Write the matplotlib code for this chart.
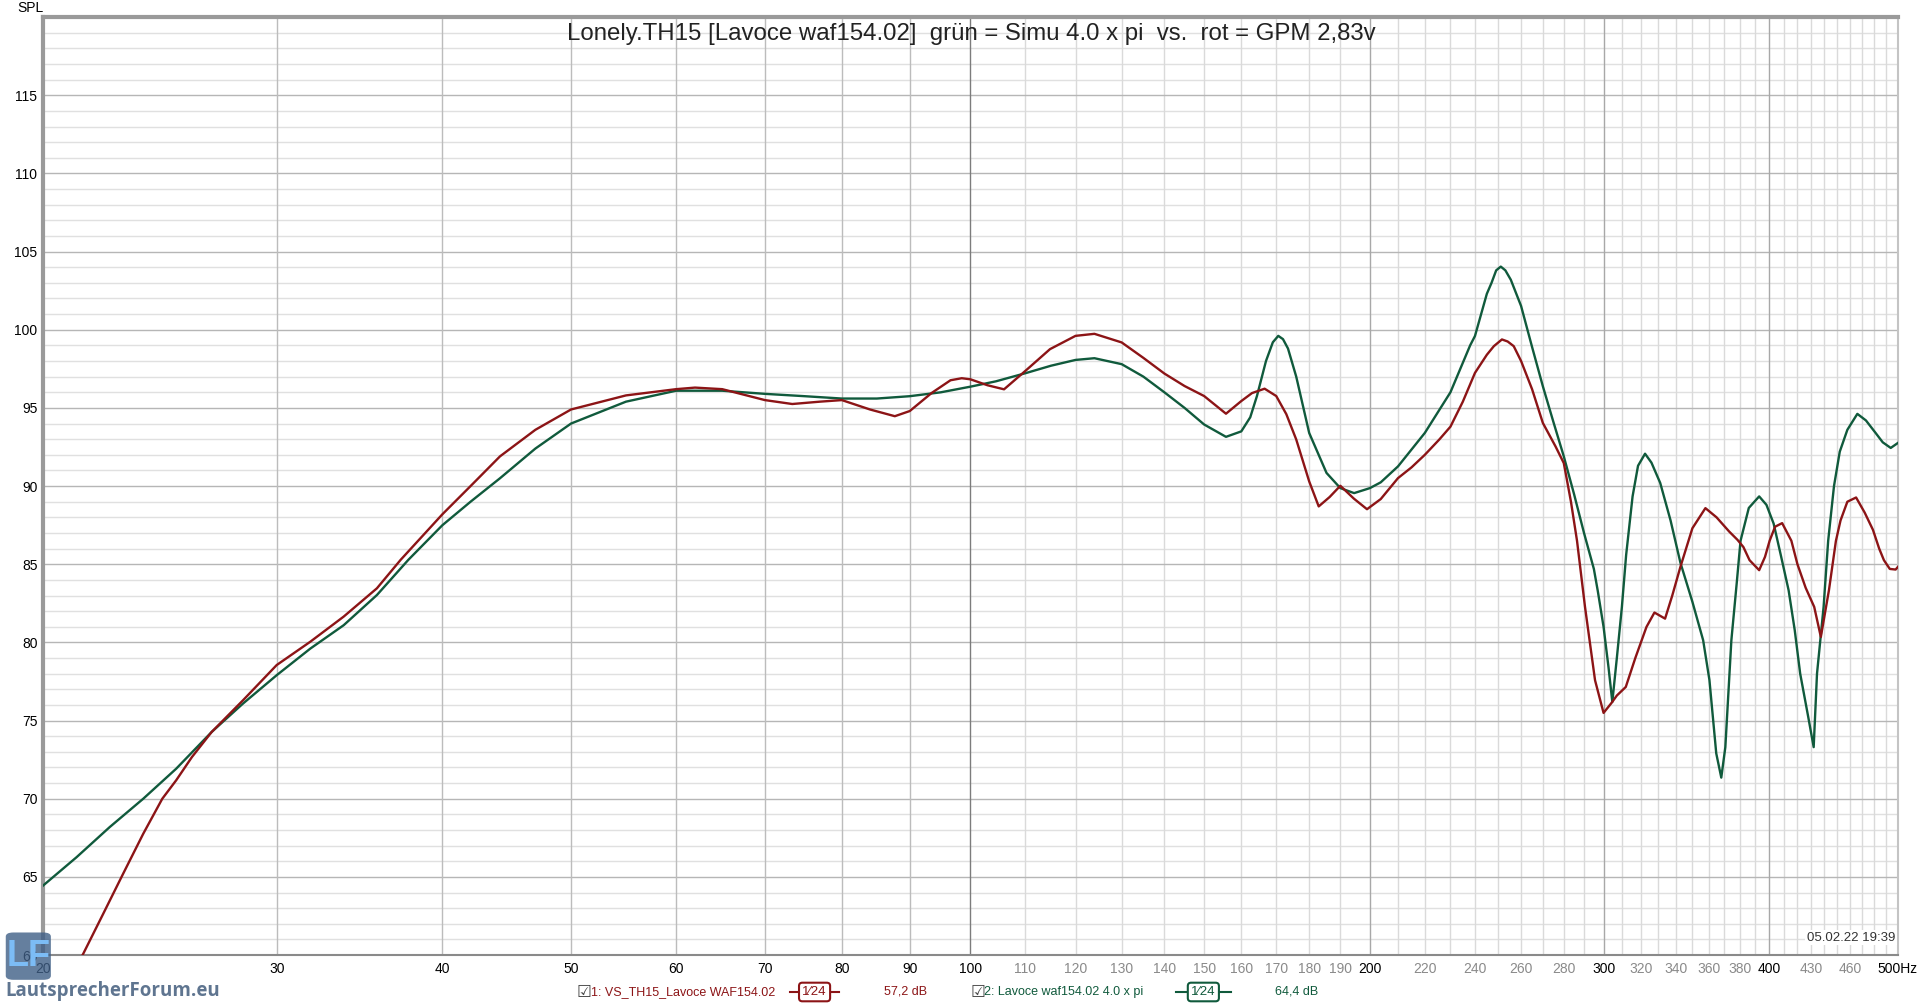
import matplotlib
matplotlib.use("Agg")
import matplotlib.pyplot as plt
from matplotlib.patches import FancyBboxPatch

plt.rcParams['font.family'] = ['Liberation Sans', 'DejaVu Sans']

# red = GPM 2,83V measurement, green = simulation 4.0 x pi
red_freq = [20.6, 21.44, 22.2, 22.98, 23.8, 24.6, 25.2, 25.9, 26.8, 28.3,
            30.0, 31.8, 33.7, 35.7, 37.2, 40.0, 42.0, 44.2, 47.0, 50.0,
            55.0, 60.0, 62.0, 65.0, 70.0, 73.4, 77.0, 80.0, 84.0, 87.7,
            90.0, 93.5, 96.6, 98.5, 100.0, 103.0, 106.0, 110.0, 114.8, 120.0,
            124.0, 130.0, 135.0, 140.0, 145.0, 150.0, 155.8, 160.0, 163.0, 166.6,
            170.0, 173.0, 176.0, 180.0, 183.0, 186.5, 190.0, 194.5, 199.0, 203.8,
            210.0, 215.0, 220.0, 225.6, 230.0, 235.0, 240.0, 245.0, 248.0, 251.5,
            254.0, 256.7,
            260.0, 265.0, 270.0, 276.0, 280.0, 283.5, 286.5, 290.5, 295.6, 300.0,
            304.0, 307.0, 311.8, 317.0, 323.2, 327.7, 333.8, 338.0, 342.8, 350.0,
            358.0, 365.0, 373.0, 378.5, 382.4, 386.5, 393.0, 397.0, 400.2, 404.0,
            409.0, 415.6, 420.0, 426.0, 432.4, 437.4, 443.6, 449.0, 452.6, 458.0,
            465.0, 472.0, 478.8, 484.0, 488.0, 493.0, 498.0, 500.0]
red_spl = [57.6, 60.06, 62.63, 65.19, 67.76, 70.0, 71.18, 72.67, 74.27, 76.3,
           78.55, 80.04, 81.65, 83.46, 85.28, 88.2, 90.0, 91.9, 93.6, 94.9,
           95.8, 96.2, 96.3, 96.2, 95.5, 95.25, 95.4, 95.5, 94.9, 94.47,
           94.8, 95.96, 96.77, 96.9, 96.83, 96.45, 96.19, 97.37, 98.76, 99.61,
           99.74, 99.19, 98.2, 97.2, 96.4, 95.76, 94.63, 95.44, 95.95, 96.23,
           95.76, 94.6, 92.98, 90.3, 88.7, 89.3, 90.02, 89.2, 88.52, 89.17,
           90.51, 91.2, 92.0, 92.98, 93.8, 95.4, 97.24, 98.4, 98.95, 99.38,
           99.25, 98.95,
           98.0, 96.2, 94.04, 92.54, 91.47, 89.0, 86.5, 82.27, 77.58, 75.49,
           76.1, 76.6, 77.15, 79.0, 80.99, 81.91, 81.52, 83.0, 84.83, 87.3,
           88.59, 88.0, 87.1, 86.56, 86.1, 85.26, 84.62, 85.47, 86.5, 87.4,
           87.63, 86.5, 85.0, 83.5, 82.27, 80.35, 83.34, 86.5, 87.8, 89.0,
           89.27, 88.3, 87.2, 86.0, 85.26, 84.7, 84.66, 84.83]

green_freq = [20.0, 21.2, 22.45, 23.8, 25.2, 26.8, 28.3, 30.0, 31.8, 33.7,
              35.7, 37.7, 40.0, 42.0, 44.2, 47.0, 50.0, 55.0, 60.0, 65.0,
              70.0, 75.0, 80.0, 85.0, 90.0, 95.0, 100.0, 104.5, 110.0, 115.0,
              120.0, 124.0, 130.0, 135.0, 140.0, 145.0, 150.0, 155.8, 160.0, 162.5,
              164.4, 167.0, 169.0, 170.6, 172.0, 173.5, 176.0, 180.0, 185.5, 190.0,
              194.6, 200.0,
              203.8, 210.0, 220.0, 230.0, 238.0, 240.0, 245.0, 247.0, 249.0, 251.0,
              253.0, 255.4, 260.0,
              265.0, 270.0, 275.0, 280.0, 285.0, 290.0, 295.0, 297.0, 300.0, 302.6,
              304.6, 307.0, 309.7, 312.0, 315.5, 318.5, 322.4, 326.0, 331.0, 337.0,
              342.8, 350.0, 356.6, 360.5, 364.8, 368.0, 370.6, 374.5, 378.0, 380.5,
              386.0, 393.0, 398.0, 403.0, 408.0, 413.6, 418.0, 422.0, 428.0, 432.0,
              434.5, 439.5, 443.0, 447.5, 452.0, 458.0, 466.0, 473.0, 481.0, 487.0,
              493.8, 500.0]
green_spl = [64.44, 66.26, 68.18, 70.0, 71.92, 74.27, 76.09, 77.9, 79.6, 81.1,
             83.03, 85.28, 87.5, 89.0, 90.5, 92.4, 94.0, 95.4, 96.1, 96.1,
             95.9, 95.75, 95.6, 95.6, 95.75, 96.0, 96.36, 96.7, 97.22, 97.7,
             98.07, 98.18, 97.8, 97.0, 96.0, 95.0, 93.94, 93.15, 93.5, 94.4,
             95.76, 98.0, 99.2, 99.61, 99.4, 98.8, 97.0, 93.4, 90.84, 89.87,
             89.55, 89.87,
             90.24, 91.26, 93.4, 96.0, 99.0, 99.6, 102.3, 103.0, 103.8, 104.04,
             103.8, 103.2, 101.52,
             98.9, 96.39, 94.1, 91.9, 89.5, 87.0, 84.7, 83.3, 81.0, 78.4,
             76.19, 79.0, 82.27, 85.6, 89.34, 91.3, 92.07, 91.5, 90.2, 87.8,
             85.1, 82.6, 80.14, 77.6, 72.9, 71.35, 73.3, 80.14, 83.8, 86.5,
             88.6, 89.34, 88.8, 87.6, 85.6, 83.34, 80.8, 78.0, 75.2, 73.3,
             78.0, 82.27, 86.5, 90.0, 92.2, 93.6, 94.62, 94.2, 93.4, 92.8,
             92.44, 92.76]

x_ticks = [20, 30, 40, 50, 60, 70, 80, 90, 100, 110, 120, 130, 140, 150, 160,
           170, 180, 190, 200, 220, 240, 260, 280, 300, 320, 340, 360, 380, 400,
           430, 460, 500]
x_bold = [20, 30, 40, 50, 60, 70, 80, 90, 100, 200, 300, 400, 500]
y_ticks = [60, 65, 70, 75, 80, 85, 90, 95, 100, 105, 110, 115]

RED = '#8c1416'
GREEN = '#105a3c'

fig = plt.figure(figsize=(19.2, 10.07), dpi=100)
ax = fig.add_axes([0.0224, 0.0516, 0.9661, 0.9314])
ax.set_xscale('log')
ax.set_xlim(20, 500)
ax.set_ylim(60, 120)

# grid
for db in range(61, 120):
    if db % 5 == 0:
        ax.axhline(db, color='#b6b6b6', lw=1.0, zorder=1)
    else:
        ax.axhline(db, color='#e0e0e0', lw=1.0, zorder=0)
for f in range(30, 500, 10):
    if f == 100:
        c = '#7c7c7c'
    elif f in (200, 300, 400):
        c = '#a8a8a8'
    elif f < 100:
        c = '#bcbcbc'
    else:
        c = '#dadada'
    ax.axvline(f, color=c, lw=1.0, zorder=1 if f <= 100 or f % 100 == 0 else 0)

ax.plot(green_freq, green_spl, color=GREEN, lw=1.7, zorder=3)
ax.plot(red_freq, red_spl, color=RED, lw=1.7, zorder=4)

ax.set_xticks(x_ticks)
ax.set_xticklabels([str(t) if t != 500 else '500Hz' for t in x_ticks])
ax.xaxis.set_minor_locator(matplotlib.ticker.NullLocator())
for lab, t in zip(ax.get_xticklabels(), x_ticks):
    lab.set_color('black' if t in x_bold else '#8a8a8a')
    lab.set_fontsize(10)
ax.set_yticks(y_ticks)
ax.set_yticklabels([str(t) for t in y_ticks], fontsize=10)
ax.tick_params(axis='both', length=0)
ax.tick_params(axis='x', pad=5)
ax.tick_params(axis='y', pad=4)

for side in ['left', 'top']:
    ax.spines[side].set_color('#9a9a9a')
    ax.spines[side].set_linewidth(3)
ax.spines['bottom'].set_color('#8a8a8a')
ax.spines['bottom'].set_linewidth(1.5)
ax.spines['right'].set_color('#c4c4c4')
ax.spines['right'].set_linewidth(1.5)

fig.text(0.0088, 0.992, 'SPL', fontsize=10, va='center', ha='left')
fig.text(0.5057, 0.966, 'Lonely.TH15 [Lavoce waf154.02]  grün = Simu 4.0 x pi  vs.  rot = GPM 2,83v',
         fontsize=17.3, ha='center', va='center', color='#222222', zorder=10)
ax.text(0.9985, 0.012, '05.02.22 19:39', transform=ax.transAxes, fontsize=9.5,
        ha='right', va='bottom', color='#333333', zorder=10,
        bbox=dict(facecolor='white', edgecolor='none', pad=1))

# legend row at the bottom
ly = 0.0149
legend_rows = [
    (0.3005, '1: VS_TH15_Lavoce WAF154.02', 0.4115, 0.4370, '57,2 dB', 0.4605, RED),
    (0.5055, '2: Lavoce waf154.02 4.0 x pi', 0.6125, 0.6410, '64,4 dB', 0.6640, GREEN),
]
for x0, name, xs, xe, val, vx, color in legend_rows:
    fig.text(x0, ly, '☑', fontsize=12, ha='left', va='center', color='#444444',
             family=['DejaVu Sans'])
    fig.text(x0 + 0.0072, ly, name, fontsize=9, ha='left', va='center', color=color)
    fig.add_artist(plt.Line2D([xs, xe], [ly, ly], color=color, lw=1.5,
                              transform=fig.transFigure))
    fig.text((xs + xe) / 2, ly, '1⁄24', fontsize=9.5, ha='center', va='center',
             color=color, bbox=dict(boxstyle='round,pad=0.25', facecolor='white',
                                    edgecolor=color, lw=1.5))
    fig.text(vx, ly, val, fontsize=9, ha='left', va='center', color=color)

# forum logo
logo = FancyBboxPatch((0.003, 0.027), 0.0235, 0.047, boxstyle='round,pad=0.0,rounding_size=0.004',
                      transform=fig.transFigure, facecolor='#3f5f86', edgecolor='none',
                      alpha=0.8, zorder=20)
fig.add_artist(logo)
fig.text(0.0148, 0.050, 'LF', fontsize=26, fontweight='bold', ha='center', va='center',
         color='#7cbcf5', zorder=21)
fig.text(0.0028, 0.0155, 'LautsprecherForum.eu', fontsize=13.5, fontweight='bold',
         ha='left', va='center', color='#5f7590', family=['Open Sans', 'DejaVu Sans'])

fig.savefig('out.png', dpi=100)
